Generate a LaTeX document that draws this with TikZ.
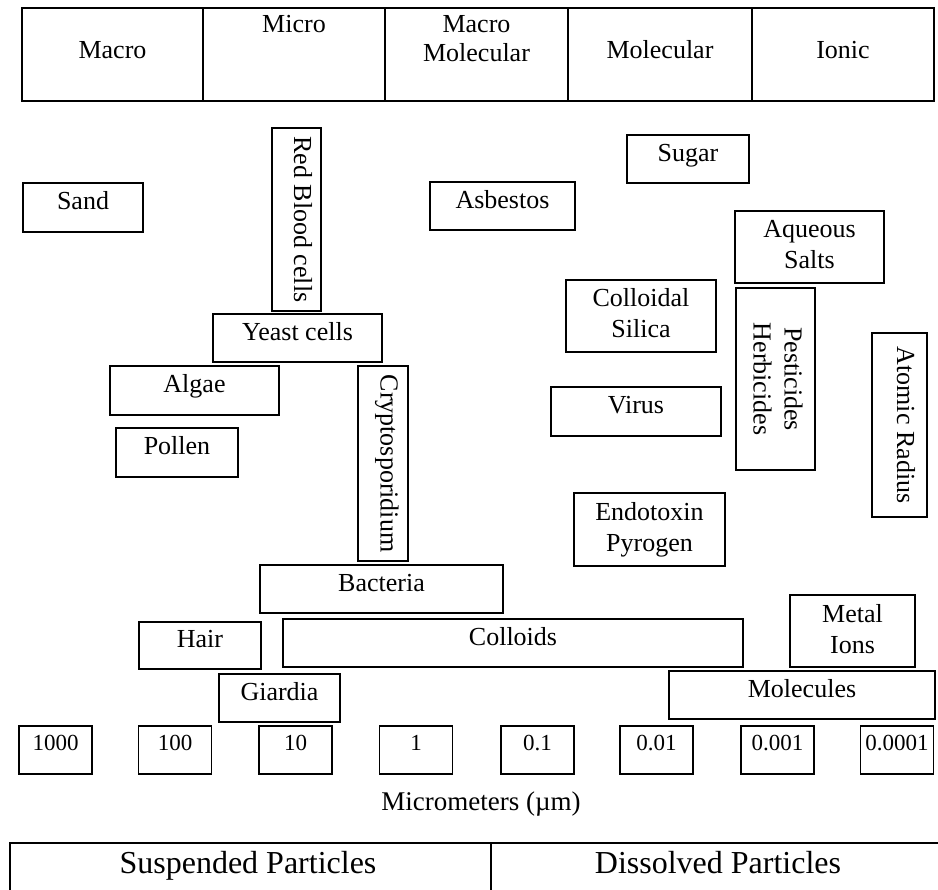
\documentclass[tikz,border=0pt]{standalone}
\usepackage{fontspec}
\setmainfont{Liberation Serif}
\usetikzlibrary{positioning}

\begin{document}
\begin{tikzpicture}[
        x=1pt, y=-1pt,
        every node/.style={inner sep=0pt, outer sep=0pt},
        box/.style={draw=black, line width=1.5pt, font=\fontsize{26}{31}\selectfont, text height=20pt, text depth=15pt},
        twoline/.style={box, align=center, text height=49pt, text depth=5pt},
        sideways/.style={rotate=-90},
        cell/.style={draw=black, line width=1.5pt, minimum height=93pt, font=\fontsize{26}{29}\selectfont, text height=20pt, text depth=11pt},
        celltop/.style={cell, text height=18pt, text depth=61pt},
        celltwo/.style={cell, align=center, text height=47pt, text depth=32pt},
        sizebox/.style={draw=black, line width=1.5pt, minimum width=73pt, minimum height=48pt, font=\fontsize{23}{27}\selectfont, text height=16pt, text depth=16pt},
        rule/.style={draw=black, line width=1.5pt},
        ]
      \useasboundingbox (0,0) rectangle (938,890);

      % size classes
      \node [cell, minimum width=181pt] (macro) at (112.5,54.5) {Macro};
      \node [celltop, minimum width=182pt] (micro) at (294,54.5) {Micro};
      \node [celltwo, minimum width=183pt] (macromol) at (476.5,54.5) {Macro\\Molecular};
      \node [cell, minimum width=184pt] (molecular) at (660,54.5) {Molecular};
      \node [cell, minimum width=182pt] (ionic) at (843,54.5) {Ionic};

      % particles
      \node [box, minimum width=120pt, minimum height=49pt] (sand) at (83,207.5) {Sand};
      \node [box, sideways, minimum width=183pt, minimum height=49pt] (rbc) at (296.5,219.5) {Red Blood cells};
      \node [box, minimum width=145pt, minimum height=48pt] (asbestos) at (502.5,206) {Asbestos};
      \node [box, minimum width=122pt, minimum height=48pt] (sugar) at (688,159) {Sugar};
      \node [twoline, minimum width=149pt, minimum height=72pt] (salts) at (809.5,247) {Aqueous\\Salts};
      \node [twoline, minimum width=150pt, minimum height=72pt] (silica) at (641,316) {Colloidal\\Silica};
      \node [twoline, sideways, minimum width=182pt, minimum height=79pt] (pesticides) at (775.5,379) {Pesticides\\Herbicides};
      \node [box, minimum width=169pt, minimum height=48pt] (yeast) at (297.5,338) {Yeast cells};
      \node [box, minimum width=169pt, minimum height=49pt] (algae) at (194.5,390.5) {Algae};
      \node [box, sideways, minimum width=195pt, minimum height=50pt] (crypto) at (383,463.5) {Cryptosporidium};
      \node [box, minimum width=170pt, minimum height=49pt] (virus) at (636,411.5) {Virus};
      \node [box, minimum width=122pt, minimum height=49pt] (pollen) at (177,452.5) {Pollen};
      \node [box, sideways, minimum width=184pt, minimum height=55pt] (atomic) at (899.5,425) {Atomic Radius};
      \node [twoline, minimum width=151pt, minimum height=73pt] (endotoxin) at (649.5,529.5) {Endotoxin\\Pyrogen};
      \node [box, minimum width=243pt, minimum height=48pt] (bacteria) at (381.5,589) {Bacteria};
      \node [twoline, minimum width=125pt, minimum height=72pt] (metal) at (852.5,631) {Metal\\Ions};
      \node [box, minimum width=122pt, minimum height=47pt] (hair) at (200,645.5) {Hair};
      \node [box, minimum width=460pt, minimum height=48pt] (colloids) at (513,643) {Colloids};
      \node [box, minimum width=121pt, minimum height=48pt] (giardia) at (279.5,698) {Giardia};
      \node [box, minimum width=266pt, minimum height=48pt] (molecules) at (802,695) {Molecules};

      % scale
      \node [sizebox] (s1000) at (55.5,750) {1000};
      \node [sizebox] (s100) at (175,750) {100};
      \node [sizebox] (s10) at (295.5,750) {10};
      \node [sizebox] (s1) at (416,750) {1};
      \node [sizebox] (s01) at (537.5,750) {0.1};
      \node [sizebox] (s001) at (656.5,750) {0.01};
      \node [sizebox] (s0001) at (777.5,750) {0.001};
      \node [sizebox] (s00001) at (897,750) {0.0001};
      \node [anchor=base, font=\fontsize{27}{32}\selectfont] (unit) at (481,810) {Micrometers (µm)};

      % particle kinds
      \draw [rule] (10,890) -- (10,843) -- (938,843);
      \draw [rule] (491,843) -- (491,890);
      \node [anchor=base, font=\fontsize{32}{38}\selectfont] (suspended) at (248,873) {Suspended Particles};
      \node [anchor=base, font=\fontsize{32}{38}\selectfont] (dissolved) at (718,873) {Dissolved Particles};
    \end{tikzpicture}
\end{document}
